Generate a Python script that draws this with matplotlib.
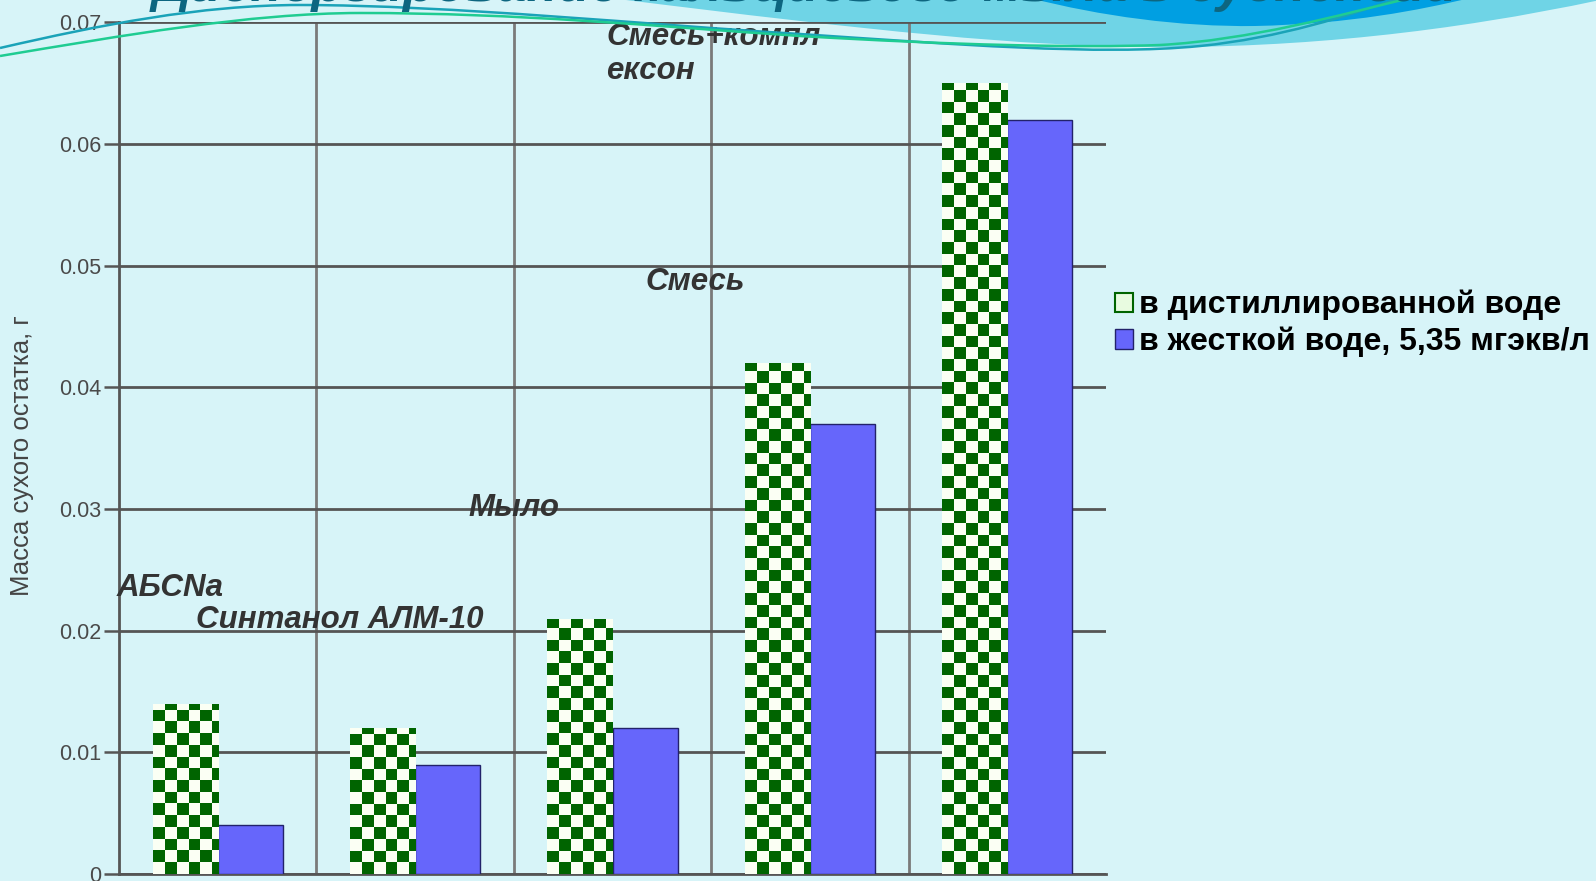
import numpy as np
import matplotlib.pyplot as plt
from matplotlib.patches import PathPatch, Patch
from matplotlib.path import Path
from matplotlib.colors import ListedColormap

plt.rcParams["font.family"] = ["Liberation Sans", "DejaVu Sans"]

CATEGORIES = ["АБСNa", "Синтанол АЛМ-10", "Мыло", "Смесь", "Смесь+компл\nексон"]
DISTILLED = [0.014, 0.012, 0.021, 0.042, 0.065]
HARD = [0.004, 0.009, 0.012, 0.037, 0.062]
SERIES_LABELS = ["в дистиллированной воде", "в жесткой воде, 5,35 мгэкв/л"]
Y_TICKS = [0, 0.01, 0.02, 0.03, 0.04, 0.05, 0.06, 0.07]
Y_TICK_LABELS = ["0", "0.01", "0.02", "0.03", "0.04", "0.05", "0.06", "0.07"]
TITLE = "Диспергирование кальциевого мыла в суспензии"

# where each category caption sits inside the plot (data coords)
LABEL_POS = [(-0.51, 0.0235), (-0.11, 0.0209), (1.268, 0.0301), (2.165, 0.0487), (1.967, 0.0674)]

BG = "#d7f4f8"
GREEN = "#006400"
BLUE = "#6666fb"

W, H = 1596, 881
fig = plt.figure(figsize=(W / 100, H / 100), dpi=100, facecolor=BG)

# background decoration layer in pixel coordinates
back = fig.add_axes([0, 0, 1, 1], zorder=0)
back.set_xlim(0, W)
back.set_ylim(H, 0)
back.axis("off")

band = Path(
    [(610, -2), (1600, -2), (1600, 0), (1450, 32), (1300, 48), (1150, 47),
     (1020, 46), (880, 32), (610, -2), (610, -2)],
    [Path.MOVETO, Path.LINETO, Path.LINETO, Path.CURVE4, Path.CURVE4, Path.CURVE4,
     Path.CURVE4, Path.CURVE4, Path.CURVE4, Path.CLOSEPOLY],
)
back.add_patch(PathPatch(band, facecolor="#6fd4e6", edgecolor="none"))
blob = Path(
    [(1030, -2), (1100, 16), (1180, 27), (1255, 26), (1350, 24), (1420, 10), (1470, -2), (1030, -2)],
    [Path.MOVETO, Path.CURVE4, Path.CURVE4, Path.CURVE4, Path.CURVE4, Path.CURVE4, Path.CURVE4,
     Path.CLOSEPOLY],
)
back.add_patch(PathPatch(blob, facecolor="#009fe2", edgecolor="none"))

# chart
ax = fig.add_axes([119 / W, 1 - 874 / H, (1106 - 119) / W, (874 - 22.4) / H], zorder=2)
ax.patch.set_alpha(0)
ax.set_xlim(-0.5, 4.5)
ax.set_ylim(0, 0.07)

x = np.arange(len(CATEGORIES))
bw = 0.33
chk = ax.bar(x - bw / 2, DISTILLED, bw, color="white", edgecolor="none", zorder=3)
ax.bar(x + bw / 2, HARD, bw, color=BLUE, edgecolor="#22226a", linewidth=1.0, zorder=3)

# checkerboard fill, roughly 11.7 px squares
px_x = (1106 - 119) / 5.0
px_y = (874 - 22.4) / 0.07
cell = 11.7
dx, dy = cell / px_x, cell / px_y
cmap = ListedColormap(["#fbfff4", GREEN])
for rect, val in zip(chk.patches, DISTILLED):
    x0 = rect.get_x()
    nx = int(np.ceil(bw / dx))
    ny = int(np.ceil(val / dy))
    board = (np.add.outer(np.arange(ny), np.arange(nx)) % 2)[::-1]
    im = ax.imshow(board, cmap=cmap, extent=[x0, x0 + nx * dx, 0, ny * dy],
                   interpolation="nearest", aspect="auto", zorder=3.5)
    im.set_clip_path(rect)
ax.set_xlim(-0.5, 4.5)
ax.set_ylim(0, 0.07)

ax.set_yticks(Y_TICKS)
ax.set_yticklabels(Y_TICK_LABELS, fontsize=15.5, color="#4a4a4a")
ax.set_xticks([])
ax.set_xticks([0.5, 1.5, 2.5, 3.5], minor=True)
ax.tick_params(axis="x", which="minor", length=0)
ax.tick_params(axis="y", length=11, width=1.8, color="#555555", pad=2)
ax.grid(axis="y", color="#555555", linewidth=2.0, zorder=1)
ax.grid(axis="x", which="minor", color="#7a7a7a", linewidth=2.0, zorder=1)
ax.set_axisbelow(True)
for s in ["top", "right"]:
    ax.spines[s].set_visible(False)
ax.spines["left"].set_color("#555555")
ax.spines["left"].set_linewidth(2.0)
ax.spines["bottom"].set_color("#555555")
ax.spines["bottom"].set_linewidth(2.0)

for name, (lx, ly) in zip(CATEGORIES, LABEL_POS):
    ax.text(lx, ly, name, fontsize=22.5, fontweight="bold", fontstyle="italic",
            color="#333333", ha="left", va="center", linespacing=1.2, zorder=5)

fig.text(22 / W, 1 - 456 / H, "Масса сухого остатка, г", rotation=90,
         fontsize=18.5, color="#444444", ha="center", va="center")

handles = [Patch(facecolor="#e8fbe0", edgecolor=GREEN, linewidth=1.5),
           Patch(facecolor=BLUE, edgecolor="#22226a", linewidth=1.0)]
fig.legend(handles, SERIES_LABELS, loc="upper left",
           bbox_to_anchor=(1115 / W, 1 - 290 / H), bbox_transform=fig.transFigure,
           frameon=False, handlelength=0.55, handleheight=0.55,
           handletextpad=0.2, labelspacing=0.2, borderpad=0, borderaxespad=0,
           prop={"weight": "bold", "size": 23})

# foreground decoration: thin curves and the slide title
front = fig.add_axes([0, 0, 1, 1], zorder=10)
front.patch.set_alpha(0)
front.set_xlim(0, W)
front.set_ylim(H, 0)
front.axis("off")
codes = [Path.MOVETO] + [Path.CURVE4] * 12
teal = Path([(0, 48), (100, 25), (200, 5), (300, 5), (450, 5), (650, 25), (800, 34),
             (950, 44), (1100, 56), (1200, 46), (1280, 38), (1350, 15), (1400, -2)], codes)
green = Path([(0, 56), (120, 36), (250, 13), (360, 13), (520, 13), (650, 26), (800, 36),
              (950, 45), (1080, 48), (1160, 45), (1250, 40), (1340, 15), (1410, -2)], codes)
front.add_patch(PathPatch(teal, facecolor="none", edgecolor="#1aa3b8", linewidth=1.8))
front.add_patch(PathPatch(green, facecolor="none", edgecolor="#1fcc92", linewidth=1.8))
front.text(153, 1, TITLE, fontsize=37.5, fontweight="bold", fontstyle="italic",
           color="#0d6680", ha="left", va="baseline")

fig.savefig("out.png", dpi=100, facecolor=BG)
